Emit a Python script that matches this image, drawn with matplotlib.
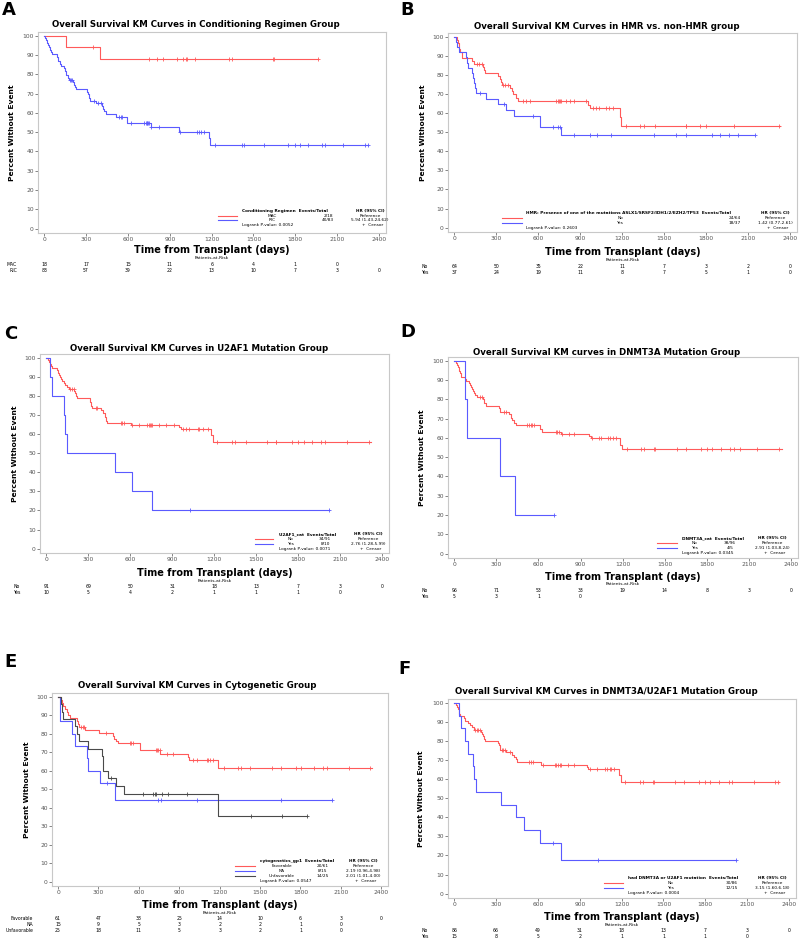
import numpy as np
import matplotlib.pyplot as plt
from matplotlib.lines import Line2D
from matplotlib.transforms import blended_transform_factory

plt.rcParams['font.family'] = 'DejaVu Sans'

W, H = 800, 940
RED = '#ff5a5a'
BLUE = '#5a5aff'
GRAY = '#4a4a4a'

x_ticks = [0, 300, 600, 900, 1200, 1500, 1800, 2100, 2400]
y_ticks = [0, 10, 20, 30, 40, 50, 60, 70, 80, 90, 100]

# ---- A: conditioning regimen ----
a_mac_t = [158, 402]
a_mac_s = [94.4, 88.2]
a_mac_cens = [352, 754, 809, 849, 951, 991, 1017, 1026, 1081, 1324, 1343, 1641, 1646, 1961]
a_mac_end = 1961
a_ric_t = [5, 12, 21, 28, 35, 40, 47, 52, 88, 95, 99, 110, 123, 140, 151, 155, 158, 170, 178,
           206, 215, 222, 229, 307, 312, 318, 322, 326, 371, 415, 419, 430, 442, 513, 596,
           762, 963, 1180, 1187]
a_ric_s = [98.8, 97.6, 96.4, 95.2, 94.0, 92.8, 91.6, 90.4, 89.2, 88.0, 86.7, 85.5, 84.3, 83.1,
           81.9, 80.7, 79.5, 78.3, 77.1, 75.9, 74.7, 73.5, 72.3, 71.1, 69.9, 68.7, 67.5, 66.3,
           65.1, 63.4, 62.2, 61.0, 59.3, 57.8, 55.0, 52.7, 50.3, 46.8, 43.4]
a_ric_cens = [182, 189, 199, 359, 383, 407, 537, 549, 560, 620, 714, 726, 733, 738, 743, 754,
              766, 821, 970, 1093, 1109, 1121, 1145, 1223, 1419, 1431, 1577, 1750, 1795, 1833,
              1890, 1991, 2015, 2145, 2299, 2318]
a_ric_end = 2318
a_risk_mac = [18, 17, 15, 11, 6, 4, 1, 0]
a_risk_ric = [83, 57, 39, 22, 13, 10, 7, 3, 0]

# ---- B: HMR ----
b_no_t = [17, 29, 33, 36, 40, 52, 55, 124, 140, 202, 212, 219, 314, 326, 333, 338, 397, 414,
          420, 440, 457, 956, 973, 1182, 1194]
b_no_s = [98.4, 96.9, 95.3, 93.8, 92.2, 90.6, 89.1, 87.5, 85.9, 84.3, 82.8, 81.2, 79.6, 78.0,
          76.4, 74.8, 73.2, 71.4, 69.8, 68.0, 66.1, 64.4, 62.7, 57.8, 53.0]
b_no_cens = [159, 178, 195, 350, 361, 385, 492, 516, 540, 730, 742, 749, 754, 766, 802, 826,
             854, 944, 992, 1011, 1032, 1087, 1106, 1135, 1230, 1325, 1356, 1437, 1653, 1658,
             1760, 1801, 1998, 2319]
b_no_end = 2331
b_yes_t = [12, 21, 36, 81, 90, 98, 128, 134, 140, 147, 155, 226, 314, 369, 428, 611, 761]
b_yes_s = [97.3, 94.6, 91.9, 89.2, 86.5, 83.8, 81.1, 78.4, 75.7, 73.0, 70.3, 67.6, 64.6, 61.6,
           58.7, 52.8, 48.4]
b_yes_cens = [183, 357, 564, 707, 742, 754, 854, 973, 1023, 1118, 1425, 1582, 1653, 1841, 1901,
              1967, 2027, 2153]
b_yes_end = 2153
b_risk_no = [64, 50, 35, 22, 11, 7, 3, 2, 0]
b_risk_yes = [37, 24, 19, 11, 8, 7, 5, 1, 0]

# ---- C: U2AF1 ----
c_no_t = [12, 22, 29, 36, 40, 77, 84, 90, 96, 105, 113, 129, 137, 148, 160, 200, 208, 215, 220,
          309, 314, 318, 323, 326, 388, 405, 419, 422, 424, 429, 436, 604, 951, 963, 1178, 1190]
c_no_s = [98.9, 97.8, 96.7, 95.6, 94.5, 93.4, 92.3, 91.2, 90.1, 89.0, 87.9, 86.8, 85.7, 84.6,
          83.5, 82.4, 81.3, 80.2, 79.1, 77.9, 76.8, 75.7, 74.6, 73.5, 72.4, 71.3, 70.2, 69.0,
          67.9, 66.8, 65.9, 64.9, 63.7, 62.5, 59.3, 56.1]
c_no_cens = [172, 184, 196, 352, 364, 532, 544, 556, 616, 663, 723, 735, 740, 747, 759, 807,
             855, 915, 975, 999, 1023, 1083, 1095, 1118, 1154, 1219, 1327, 1346, 1425, 1581,
             1641, 1643, 1758, 1801, 1839, 1897, 1964, 1993, 2148, 2309]
c_no_end = 2323
c_yes_t = [29, 41, 125, 137, 148, 491, 611, 759]
c_yes_s = [90, 80, 70, 60, 50, 40, 30, 20]
c_yes_cens = [1027, 2024]
c_yes_end = 2024
c_risk_no = [91, 69, 50, 31, 18, 13, 7, 3, 0]
c_risk_yes = [10, 5, 4, 2, 1, 1, 1, 0]

# ---- D: DNMT3A ----
d_no_t = [12, 19, 25, 31, 35, 38, 45, 48, 74, 84, 103, 115, 120, 126, 132, 138, 150, 162, 205,
          210, 215, 229, 317, 323, 329, 389, 401, 407, 413, 425, 437, 611, 627, 759, 962, 973,
          1183, 1193]
d_no_s = [98.9, 97.9, 96.8, 95.8, 94.7, 93.7, 92.6, 91.6, 90.5, 89.5, 88.4, 87.4, 86.3, 85.3,
          84.2, 83.2, 82.1, 81.1, 80.0, 78.9, 77.9, 76.8, 75.7, 74.6, 73.5, 72.4, 71.3, 70.2,
          69.1, 68.0, 66.7, 64.8, 63.3, 62.0, 61.0, 59.8, 56.5, 54.2]
d_no_cens = [186, 198, 353, 365, 520, 532, 544, 556, 568, 723, 735, 747, 771, 818, 854, 985,
             1033, 1045, 1098, 1110, 1129, 1152, 1229, 1331, 1355, 1427, 1434, 1587, 1653, 1761,
             1801, 1840, 1899, 1968, 1992, 2035, 2155, 2317]
d_no_end = 2334
d_yes_t = [74, 91, 329, 432]
d_yes_s = [80, 60, 40, 20]
d_yes_cens = [711]
d_yes_end = 711
d_risk_no = [96, 71, 53, 33, 19, 14, 8, 3, 0]
d_risk_yes = [5, 3, 1, 0]

# ---- E: cytogenetics ----
e_fav_t = [20, 32, 40, 50, 65, 75, 90, 137, 145, 157, 202, 307, 406, 419, 431, 444, 605, 611,
           760, 962, 974, 1185, 1191]
e_fav_s = [98.4, 96.7, 95.1, 93.4, 91.8, 90.2, 88.5, 86.9, 85.2, 83.6, 81.9, 80.2, 78.5, 76.9,
           75.9, 75.0, 73.0, 71.0, 68.8, 67.3, 66.0, 63.6, 61.2]
e_fav_cens = [169, 182, 194, 356, 531, 543, 556, 730, 738, 745, 755, 812, 855, 1004, 1029, 1104,
              1116, 1129, 1154, 1229, 1333, 1361, 1428, 1590, 1652, 1764, 1807, 1901, 1969, 1999,
              2163, 2320]
e_fav_end = 2332
e_na_t = [12, 15, 102, 127, 212, 224, 314, 426]
e_na_s = [93.3, 86.7, 80.0, 73.3, 66.7, 60.0, 53.3, 44.4]
e_na_cens = [361, 743, 768, 1034, 1652, 2031]
e_na_end = 2031
e_unf_t = [25, 32, 40, 127, 137, 157, 219, 324, 331, 336, 369, 431, 493, 1191]
e_unf_s = [96, 92, 88, 84, 80, 76, 72, 68, 64, 60, 56, 51.8, 47.3, 35.5]
e_unf_cens = [394, 630, 705, 718, 730, 773, 817, 954, 1435, 1660, 1847]
e_unf_end = 1847
e_risk_fav = [61, 47, 38, 25, 14, 10, 6, 3, 0]
e_risk_na = [15, 9, 5, 3, 2, 2, 1, 0]
e_risk_unf = [25, 18, 11, 5, 3, 2, 1, 0]

# ---- F: DNMT3A or U2AF1 ----
f_no_t = [12, 19, 26, 32, 36, 40, 67, 78, 95, 114, 126, 138, 192, 200, 209, 215, 221, 311, 321,
          325, 328, 368, 416, 428, 440, 447, 620, 950, 962, 1183, 1195]
f_no_s = [98.8, 97.7, 96.5, 95.3, 94.2, 93.0, 91.9, 90.7, 89.5, 88.4, 87.2, 86.0, 84.8, 83.6,
          82.4, 81.2, 80.1, 78.9, 77.7, 76.5, 75.3, 74.1, 72.9, 71.6, 70.4, 68.9, 67.3, 66.4,
          65.5, 62.1, 58.6]
f_no_cens = [150, 162, 173, 185, 340, 352, 364, 399, 535, 549, 561, 637, 725, 732, 744, 756, 767,
             815, 858, 974, 1022, 1081, 1093, 1119, 1124, 1148, 1224, 1333, 1350, 1426, 1433,
             1580, 1647, 1758, 1796, 1837, 1896, 1967, 1991, 2150, 2300, 2319]
f_no_end = 2331
f_yes_t = [36, 48, 78, 95, 131, 143, 154, 333, 440, 499, 613, 763]
f_yes_s = [93.3, 86.7, 80.0, 73.3, 66.7, 60.0, 53.3, 46.7, 40.0, 33.3, 26.7, 17.8]
f_yes_cens = [708, 1034, 2022]
f_yes_end = 2022
f_risk_no = [86, 66, 49, 31, 18, 13, 7, 3, 0]
f_risk_yes = [15, 8, 5, 2, 1, 1, 1, 0]

fig = plt.figure(figsize=(W / 100, H / 100), dpi=100)


def fx(x):
    return x / W


def fy(y):
    return 1 - y / H


def draw_curve(ax, t, s, cens, end, color):
    ax.step([0] + t + [end], [100] + s + [s[-1]], where='post', color=color, lw=0.8)
    tt = np.array([0] + t)
    ss = np.array([100] + s)
    cy = ss[np.searchsorted(tt, cens, side='right') - 1]
    ax.plot(cens, cy, ls='none', marker='+', ms=3, mew=0.6, color=color)


def panel(p):
    l, r, t, b = p['box']
    ax = fig.add_axes([fx(l), fy(b), (r - l) / W, (b - t) / H])
    for c in p['curves']:
        draw_curve(ax, *c)
    ax.set_xlim(-45, 2450)
    ax.set_ylim(-2.3, 102)
    ax.set_xticks(x_ticks)
    ax.set_yticks(y_ticks)
    ax.tick_params(labelsize=4.3, colors='#555555', length=2, width=0.5, pad=1)
    for sp in ax.spines.values():
        sp.set_color('#c8c8c8')
        sp.set_linewidth(0.8)

    fig.text(fx(p['letter'][0]), fy(p['letter'][1]), p['name'], fontsize=13,
             fontweight='bold', ha='left', va='top')
    fig.text(fx(p['title_x']), fy(t - p['title_dy']), p['title'], fontsize=6.2,
             fontweight='bold', ha='center', va='baseline')
    fig.text(fx(p['ylab_x']), fy((t + b) / 2), 'Percent Without Event', fontsize=5.4,
             fontweight='bold', rotation=90, ha='center', va='center')
    fig.text(fx((l + r) / 2), fy(b + p['xlab_dy']), 'Time from Transplant (days)',
             fontsize=7, fontweight='bold', ha='center', va='center')

    # legend block
    lg = p['legend']
    ys = [b - u for u in lg['ups']]
    fig.text(fx(r - lg['hdr']), fy(ys[0]), lg['header'], fontsize=3.1, fontweight='bold',
             ha='left', va='center')
    fig.text(fx(r - lg['hr']), fy(ys[0]), 'HR (95% CI)', fontsize=3.1, fontweight='bold',
             ha='center', va='center')
    for (lab, ev, hr, col), y in zip(lg['rows'], ys[1:-1]):
        fig.add_artist(Line2D([fx(r - lg['line'][0]), fx(r - lg['line'][1])], [fy(y), fy(y)],
                              transform=fig.transFigure, color=col, lw=0.8))
        fig.text(fx(r - lg['grp']), fy(y), lab, fontsize=3.1, ha='center', va='center')
        fig.text(fx(r - lg['ev']), fy(y), ev, fontsize=3.1, ha='center', va='center')
        fig.text(fx(r - lg['hr']), fy(y), hr, fontsize=3.1, ha='center', va='center')
    fig.text(fx(r - lg['hdr']), fy(ys[-1]), lg['logrank'], fontsize=3.1, ha='left',
             va='center')
    fig.text(fx(r - lg['hr'] + 3), fy(ys[-1]), '+  Censor', fontsize=3.1, ha='center',
             va='center')

    # patients at risk
    tr = blended_transform_factory(ax.transData, fig.transFigure)
    y0 = b + p['risk_dy']
    fig.text(fx((l + r) / 2), fy(y0), 'Patients-at-Risk', fontsize=3.2, ha='center',
             va='center')
    for i, (lab, vals) in enumerate(p['risk']):
        y = y0 + 6 * (i + 1)
        fig.text(fx(p['risk_lab_x']), fy(y), lab, fontsize=3.3, ha='right', va='center')
        for xv, v in zip(x_ticks, vals):
            ax.text(xv, fy(y), str(v), transform=tr, fontsize=3.3, ha='center', va='center',
                    clip_on=False)
    return ax


panels = [
    dict(name='A', letter=(2, 1), box=(38, 386, 32, 233), title_x=196, title_dy=5,
         title='Overall Survival KM Curves in Conditioning Regimen Group',
         curves=[(a_mac_t, a_mac_s, a_mac_cens, a_mac_end, RED),
                 (a_ric_t, a_ric_s, a_ric_cens, a_ric_end, BLUE)],
         ylab_x=12, xlab_dy=17, risk_dy=25, risk_lab_x=17,
         legend=dict(header='Conditioning Regimen  Events/Total', hdr=144, grp=114, ev=58,
                     hr=16, line=(168, 149), ups=[22, 17, 13, 8],
                     rows=[('MAC', '2/18', 'Reference', RED),
                           ('RIC', '40/83', '5.94 (1.43-24.62)', BLUE)],
                     logrank='Logrank P-value: 0.0052'),
         risk=[('MAC', a_risk_mac), ('RIC', a_risk_ric)]),
    dict(name='B', letter=(400, 1), box=(448, 797, 33, 232), title_x=607, title_dy=4,
         title='Overall Survival KM Curves in HMR vs. non-HMR group',
         curves=[(b_no_t, b_no_s, b_no_cens, b_no_end, RED),
                 (b_yes_t, b_yes_s, b_yes_cens, b_yes_end, BLUE)],
         ylab_x=423, xlab_dy=20, risk_dy=28, risk_lab_x=428,
         legend=dict(header='HMR: Presence of one of the mutations ASLX1/SRSF2/IDH1/2/EZH2/TP53'
                            '  Events/Total',
                     hdr=271, grp=177, ev=62, hr=22, line=(295, 275), ups=[19, 14, 9, 4],
                     rows=[('No', '24/64', 'Reference', RED),
                           ('Yes', '18/37', '1.42 (0.77-2.61)', BLUE)],
                     logrank='Logrank P-value: 0.2603'),
         risk=[('No', b_risk_no), ('Yes', b_risk_yes)]),
    dict(name='C', letter=(4, 325), box=(40, 389, 354, 553), title_x=199, title_dy=3,
         title='Overall Survival KM Curves in U2AF1 Mutation Group',
         curves=[(c_no_t, c_no_s, c_no_cens, c_no_end, RED),
                 (c_yes_t, c_yes_s, c_yes_cens, c_yes_end, BLUE)],
         ylab_x=15, xlab_dy=20, risk_dy=28, risk_lab_x=20,
         legend=dict(header='U2AF1_cat  Events/Total', hdr=110, grp=98, ev=64, hr=21,
                     line=(134, 116), ups=[19, 14, 9, 4],
                     rows=[('No', '34/91', 'Reference', RED),
                           ('Yes', '8/10', '2.76 (1.28-5.99)', BLUE)],
                     logrank='Logrank P-value: 0.0071'),
         risk=[('No', c_risk_no), ('Yes', c_risk_yes)]),
    dict(name='D', letter=(400, 323), box=(448, 798, 357, 558), title_x=607, title_dy=2,
         title='Overall Survival KM curves in DNMT3A Mutation Group',
         curves=[(d_no_t, d_no_s, d_no_cens, d_no_end, RED),
                 (d_yes_t, d_yes_s, d_yes_cens, d_yes_end, BLUE)],
         ylab_x=422, xlab_dy=19, risk_dy=26, risk_lab_x=428,
         legend=dict(header='DNMT3A_cat  Events/Total', hdr=116, grp=103, ev=68, hr=26,
                     line=(141, 121), ups=[20, 15, 10, 5],
                     rows=[('No', '38/96', 'Reference', RED),
                           ('Yes', '4/5', '2.91 (1.03-8.24)', BLUE)],
                     logrank='Logrank P-value: 0.0345'),
         risk=[('No', d_risk_no), ('Yes', d_risk_yes)]),
    dict(name='E', letter=(4, 653), box=(52, 388, 693, 886), title_x=197, title_dy=5,
         title='Overall Survival KM Curves in Cytogenetic Group',
         curves=[(e_fav_t, e_fav_s, e_fav_cens, e_fav_end, RED),
                 (e_na_t, e_na_s, e_na_cens, e_na_end, BLUE),
                 (e_unf_t, e_unf_s, e_unf_cens, e_unf_end, GRAY)],
         ylab_x=27, xlab_dy=19, risk_dy=27, risk_lab_x=33,
         legend=dict(header='cytogenetics_gp1  Events/Total', hdr=128, grp=106, ev=65, hr=25,
                     line=(153, 133), ups=[25, 20, 15, 10, 5],
                     rows=[('Favorable', '20/61', 'Reference', RED),
                           ('NA', '8/15', '2.19 (0.96-4.98)', BLUE),
                           ('Unfavorable', '14/25', '2.01 (1.01-4.00)', GRAY)],
                     logrank='Logrank P-value: 0.0547'),
         risk=[('Favorable', e_risk_fav), ('NA', e_risk_na), ('Unfavorable', e_risk_unf)]),
    dict(name='F', letter=(398, 660), box=(448, 796, 699, 898), title_x=606, title_dy=5,
         title='Overall Survival KM Curves in DNMT3A/U2AF1 Mutation Group',
         curves=[(f_no_t, f_no_s, f_no_cens, f_no_end, RED),
                 (f_yes_t, f_yes_s, f_yes_cens, f_yes_end, BLUE)],
         ylab_x=421, xlab_dy=19, risk_dy=27, risk_lab_x=428,
         legend=dict(header='had DNMT3A or U2AF1 mutation  Events/Total', hdr=168, grp=125,
                     ev=64, hr=24, line=(192, 173), ups=[20, 15, 10, 5],
                     rows=[('No', '30/86', 'Reference', RED),
                           ('Yes', '12/15', '3.15 (1.60-6.18)', BLUE)],
                     logrank='Logrank P-value: 0.0004'),
         risk=[('No', f_risk_no), ('Yes', f_risk_yes)]),
]

for p in panels:
    panel(p)

fig.savefig('out.png', dpi=100, facecolor='white')
